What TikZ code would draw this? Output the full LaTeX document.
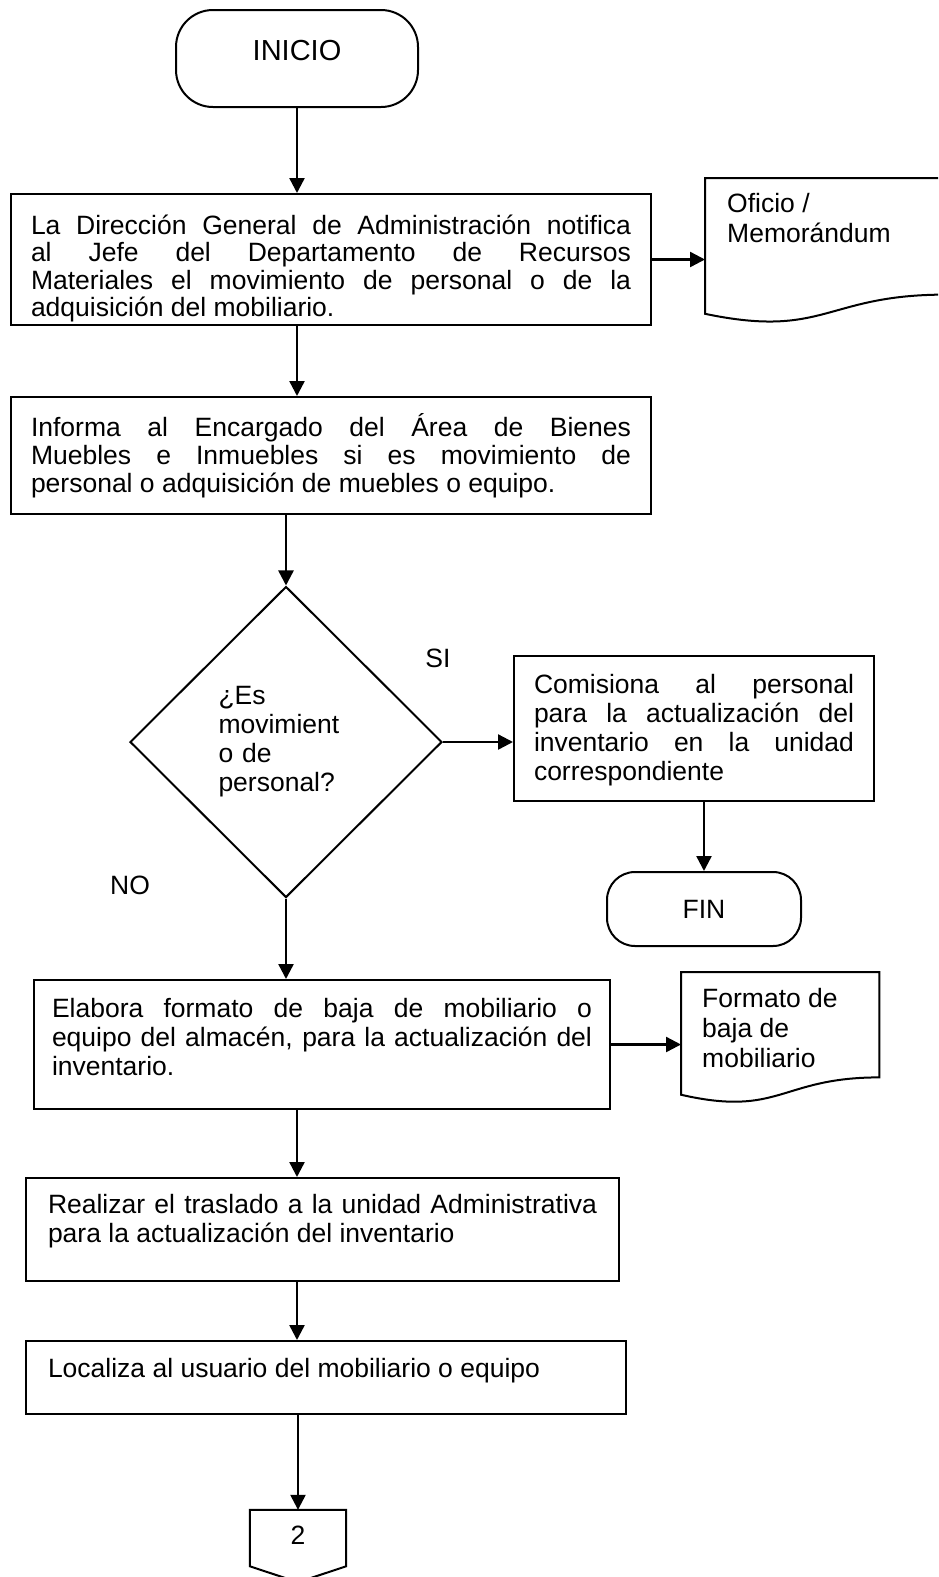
\documentclass[tikz,border=0pt]{standalone}
\usepackage{fontspec}
\setmainfont{Liberation Sans}
\usetikzlibrary{shapes.geometric,arrows.meta,calc}

\newcommand{\caja}[4]{\parbox[c][#2][t]{#1}{\sloppy\hyphenpenalty=10000\rule{0pt}{#3}#4}}
\newcommand{\hoja}[1]{\draw[borde] (#1.north west) -- (#1.north east)
  -- ($(#1.north east)!0.802!(#1.south east)$)
  .. controls ($(#1.north)!0.802!(#1.south)$) and ($(#1.north)!1.107!(#1.south)$)
  .. ($(#1.north west)!0.934!(#1.south west)$) -- cycle;}
\newcommand{\conector}[1]{\draw[borde] (#1.north west) -- (#1.north east)
  -- ($(#1.north east)!0.78!(#1.south east)$) -- (#1.south)
  -- ($(#1.north west)!0.78!(#1.south west)$) -- cycle;}

\begin{document}
\begin{tikzpicture}[x=1pt,y=-1pt,font=\fontsize{26.5pt}{29pt}\selectfont]
\tikzset{borde/.style={draw,line width=2pt}}
\tikzset{flecha/.style={draw,line width=2.4pt,-{Triangle[length=15pt,width=15pt]}}}
\tikzset{terminal/.style={borde,rectangle,inner sep=0pt}}
\tikzset{proceso/.style={borde,rectangle,anchor=north west,inner ysep=0pt}}
\tikzset{documento/.style={rectangle,anchor=north west,inner ysep=0pt}}
\tikzset{decision/.style={borde,diamond,minimum width=312pt,minimum height=311pt,inner sep=0pt,align=left,text width=135pt}}
\useasboundingbox (0,0) rectangle (938,1577);
\clip (0,0) rectangle (938,1577);

\node[terminal,rounded corners=37pt,minimum width=242pt,minimum height=97pt,text depth=17pt,font=\fontsize{29pt}{32pt}\selectfont] (ini) at (297,58.5) {INICIO};
\node[proceso,inner xsep=20pt] (b1) at (10,193) {\caja{600pt}{131pt}{40pt}{\baselineskip=27.5pt La Dirección General de Administración notifica\linebreak al Jefe del Departamento de Recursos\linebreak Materiales el movimiento de personal o de la\linebreak adquisición del mobiliario.}};
\node[documento,inner xsep=22pt] (ofi) at (705,178) {\caja{196pt}{145pt}{34pt}{\baselineskip=30pt Oficio /\\Memorándum}};
\node[proceso,inner xsep=20pt] (b2) at (10,396) {\caja{600pt}{117pt}{39pt}{\baselineskip=28pt Informa al Encargado del Área de Bienes\linebreak Muebles e Inmuebles si es movimiento de\linebreak personal o adquisición de muebles o equipo.}};
\node[decision] (dec) at (286,742) {¿Es\\movimient\\o de\\personal?};
\node (lblsi) at (438,658) {SI};
\node (lblno) at (130,885) {NO};
\node[proceso,inner xsep=20pt] (si) at (513,655) {\caja{320pt}{145pt}{37pt}{Comisiona al personal\linebreak para la actualización del\linebreak inventario en la unidad\linebreak correspondiente}};
\node[terminal,rounded corners=28pt,minimum width=194pt,minimum height=74pt] (fin) at (704,909) {FIN};
\node[proceso,inner xsep=18pt] (b3) at (33,979) {\caja{540pt}{129pt}{37pt}{Elabora formato de baja de mobiliario o\linebreak equipo del almacén, para la actualización del\linebreak inventario.}};
\node[documento,inner xsep=21pt] (fto) at (681,972) {\caja{156pt}{131pt}{35pt}{\baselineskip=30pt Formato de\\baja de\\mobiliario}};
\node[proceso,inner xsep=22pt] (b4) at (25,1177) {\caja{549pt}{103pt}{35pt}{Realizar el traslado a la unidad Administrativa\linebreak para la actualización del inventario}};
\node[proceso,inner xsep=22pt] (b5) at (25,1340) {\caja{556pt}{73pt}{36pt}{Localiza al usuario del mobiliario o equipo}};
\node[rectangle,inner sep=0pt,minimum width=96pt,minimum height=72pt,text depth=22pt] (con) at (298,1546) {2};
\hoja{ofi}
\hoja{fto}
\conector{con}

\draw[flecha] (ini) -- (ini |- b1.north);
\draw[flecha] (b1.east) -- (b1.east -| ofi.west);
\draw[flecha] (ini |- b1.south) -- (ini |- b2.north);
\draw[flecha] (dec |- b2.south) -- (dec);
\draw[flecha] (dec) -- (dec -| si.west);
\draw[flecha] (fin |- si.south) -- (fin);
\draw[flecha] (dec) -- (dec |- b3.north);
\draw[flecha] (b3.east) -- (b3.east -| fto.west);
\draw[flecha] (ini |- b3.south) -- (ini |- b4.north);
\draw[flecha] (ini |- b4.south) -- (ini |- b5.north);
\draw[flecha] (con |- b5.south) -- (con);
\end{tikzpicture}
\end{document}
